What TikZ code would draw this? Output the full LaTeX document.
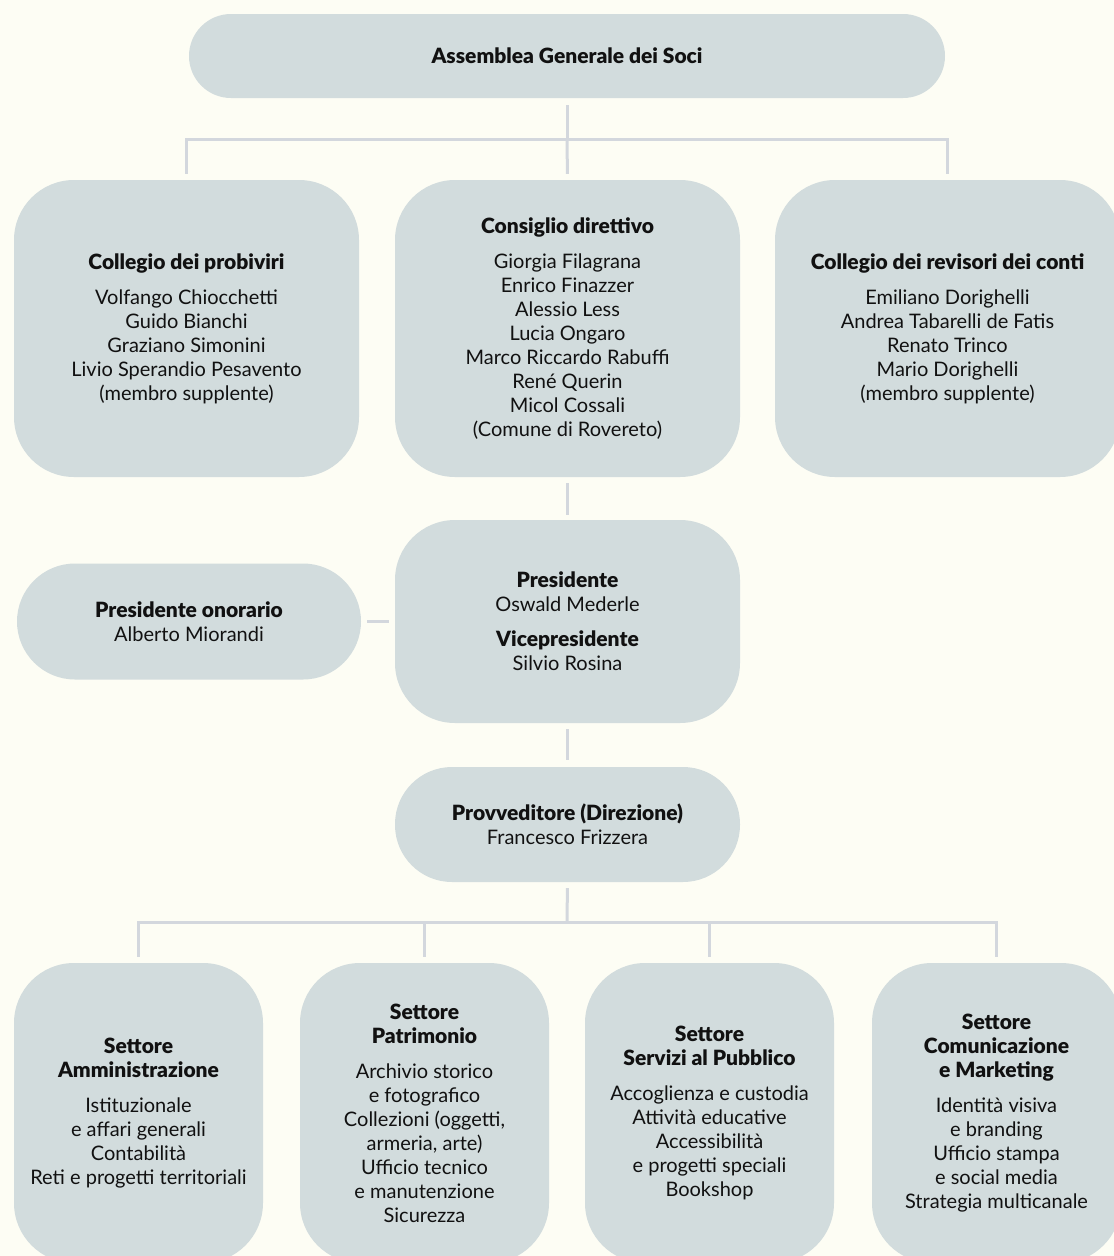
\documentclass[tikz,border=0pt]{standalone}
\usepackage{fontspec}
\setmainfont{Lato}[BoldFont={Lato Black}]
\definecolor{bg}{HTML}{FDFDF4}
\definecolor{boxc}{HTML}{D2DCDD}
\definecolor{linec}{HTML}{D3D7DD}
\definecolor{ink}{HTML}{111111}
\newcommand\hd[1]{{\fontsize{21}{24}\selectfont\bfseries #1}}
\begin{document}
\begin{tikzpicture}[x=1pt,y=-1pt,
  box/.style={fill=boxc,draw=none,inner sep=0pt,align=center,text=ink,font=\fontsize{20}{24}\selectfont},
  pill/.style={box,minimum height=84pt,rounded corners=42pt},
  tallbox/.style={box,minimum width=345pt,rounded corners=60pt},
  sector/.style={box,minimum width=249pt,minimum height=300pt,rounded corners=60pt},
  conn/.style={draw=linec,line width=3pt}]
\useasboundingbox (0,0) rectangle (1114,1256);
\fill[bg] (0,0) rectangle (1114,1256);
\clip (0,0) rectangle (1114,1256);

\node[pill,minimum width=756pt] (assemblea) at (567,56) {\hd{Assemblea Generale dei Soci}};

\node[tallbox,minimum height=297pt] (probiviri) at (186.5,328.5) {\hd{Collegio dei probiviri}\\[11pt]
Volfango Chiocchetti\\Guido Bianchi\\Graziano Simonini\\Livio Sperandio Pesavento\\(membro supplente)};

\node[tallbox,minimum height=297pt] (consiglio) at (567.5,328.5) {\hd{Consiglio direttivo}\\[11pt]
Giorgia Filagrana\\Enrico Finazzer\\Alessio Less\\Lucia Ongaro\\Marco Riccardo Rabuffi\\René Querin\\Micol Cossali\\(Comune di Rovereto)};

\node[tallbox,minimum height=297pt] (revisori) at (947.5,328.5) {\hd{Collegio dei revisori dei conti}\\[11pt]
Emiliano Dorighelli\\Andrea Tabarelli de Fatis\\Renato Trinco\\Mario Dorighelli\\(membro supplente)};

\node[tallbox,minimum height=203pt] (presidente) at (567.5,621.5) {\hd{Presidente}\\Oswald Mederle\\[11pt]
\hd{Vicepresidente}\\Silvio Rosina};

\node[box,minimum width=344pt,minimum height=116pt,rounded corners=58pt] (onorario) at (189,621.5) {\hd{Presidente onorario}\\Alberto Miorandi};

\node[box,minimum width=345pt,minimum height=115pt,rounded corners=57pt] (provveditore) at (567.5,824.5) {\hd{Provveditore (Direzione)}\\Francesco Frizzera};

\node[sector] (amm) at (138.5,1113) {\hd{Settore}\\\hd{Amministrazione}\\[11pt]
Istituzionale\\e affari generali\\Contabilità\\Reti e progetti territoriali};
\node[sector] (pat) at (424.5,1113) {\hd{Settore}\\\hd{Patrimonio}\\[11pt]
Archivio storico\\e fotografico\\Collezioni (oggetti,\\armeria, arte)\\Ufficio tecnico\\e manutenzione\\Sicurezza};
\node[sector] (serv) at (709.5,1113) {\hd{Settore}\\\hd{Servizi al Pubblico}\\[11pt]
Accoglienza e custodia\\Attività educative\\Accessibilità\\e progetti speciali\\Bookshop};
\node[sector] (com) at (996.5,1113) {\hd{Settore}\\\hd{Comunicazione}\\\hd{e Marketing}\\[11pt]
Identità visiva\\e branding\\Ufficio stampa\\e social media\\Strategia multicanale};

\coordinate (b1) at (567,139);
\coordinate (b2) at (567,922);

\draw[conn,shorten <=7pt] (assemblea.south) -- (b1);
\draw[conn,shorten >=6pt] (b1) -| (probiviri.north);
\draw[conn,shorten >=6pt] (b1) -| (revisori.north);
\draw[conn,shorten >=6pt] (b1) -- (consiglio.north);
\draw[conn,shorten <=6pt,shorten >=5pt] (consiglio.south) -- (presidente.north);
\draw[conn,shorten <=6pt,shorten >=6pt] (onorario.east) -- (presidente.west);
\draw[conn,shorten <=6pt,shorten >=7pt] (presidente.south) -- (provveditore.north);
\draw[conn,shorten <=6pt] (provveditore.south) -- (b2);
\draw[conn,shorten >=6pt] (b2) -| (amm.north);
\draw[conn,shorten >=6pt] (b2) -| (pat.north);
\draw[conn,shorten >=6pt] (b2) -| (serv.north);
\draw[conn,shorten >=6pt] (b2) -| (com.north);
\end{tikzpicture}
\end{document}
